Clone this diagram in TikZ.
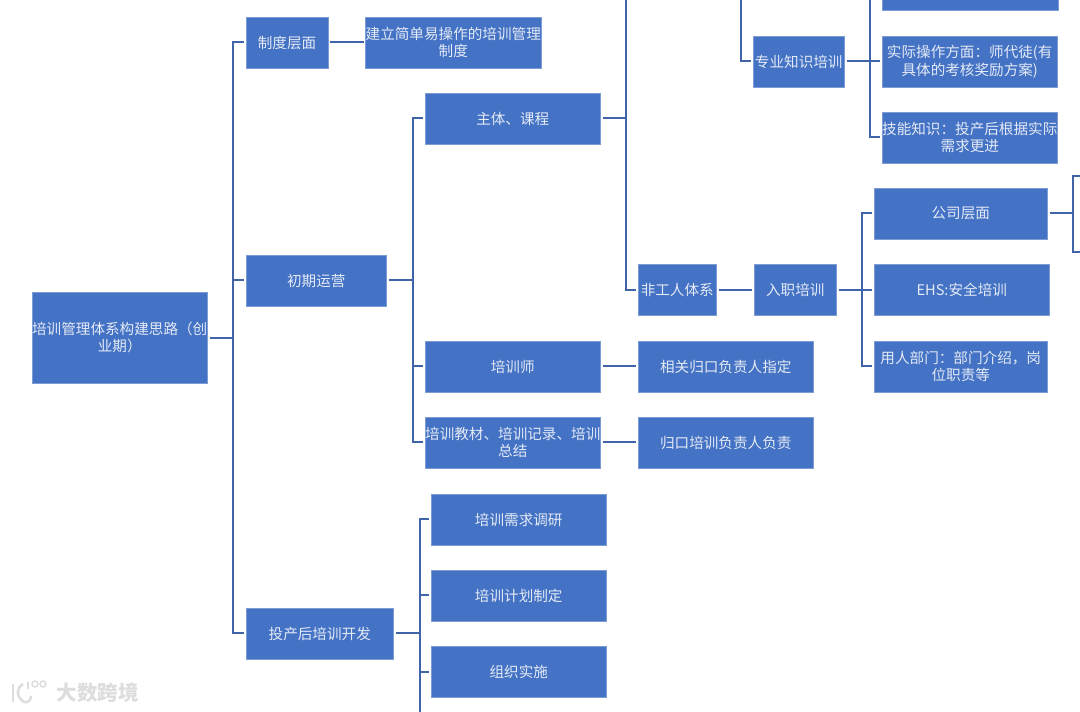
\documentclass[tikz,border=0pt]{standalone}
\usepackage{fontspec}
\setmainfont{Noto Sans CJK SC}
\usetikzlibrary{positioning,calc}
\definecolor{boxblue}  {HTML}{4472C4}
\definecolor{boxedge}  {HTML}{7D9CD6}
\definecolor{linkblue} {HTML}{3F64A8}
\definecolor{boxtext}  {HTML}{E4EAF6}
\definecolor{markgrey} {HTML}{DDDDDD}
\tikzset{
  % --- nodes
  box/.style  = {draw=boxedge, line width=0.4pt, fill=boxblue, text=boxtext, align=center,
                 inner sep=0pt, outer sep=2pt, minimum height=51pt,
                 font=\fontsize{14.6}{17.5}\selectfont},
  % --- edges
  e/.style    = {draw=linkblue, line width=2pt, transform canvas={yshift=0.5pt}},
}

\begin{document}
\begin{tikzpicture}[x=1pt,y=-1pt]
  \useasboundingbox (0,0) rectangle (1080,712);
  \clip (0,0) rectangle (1080,712);
  % all blocks: name/centre x/centre y/width/text
  \foreach \n/\x/\y/\w/\txt in {
    zhidu/287/42.5/81.5/{制度层面},
    jianli/453.25/42.5/174.5/{建立简单易操作的培训管理\\制度},
    zhuti/512.75/118.5/175.5/{主体、课程},
    chuqi/316.25/280.5/140.5/{初期运营},
    shi/512.75/366.5/175.5/{培训师},
    jiaocai/512.75/442.5/175.5/{培训教材、培训记录、培训\\总结},
    guikou/725.75/366.5/175.5/{相关归口负责人指定},
    fuze/725.75/442.5/175.5/{归口培训负责人负责},
    feigong/677.25/290/78.5/{非工人体系},
    ruzhi/795.25/290/82.5/{入职培训},
    zhuanye/798.75/61.5/91.5/{专业知识培训},
    topbox/970.25/-15/176.5/{},
    shiji/969.75/61.5/175.5/{实际操作方面：师代徒(有\\具体的考核奖励方案)},
    jineng/969.75/137.5/175.5/{技能知识：投产后根据实际\\需求更进},
    gongsi/960.75/213.5/173.5/{公司层面},
    ehs/961.75/290/175.5/{EHS:安全培训},
    yongren/960.75/366.5/173.5/{用人部门：部门介绍，岗\\位职责等},
    touchan/319.75/633.5/147.5/{投产后培训开发},
    xuqiu/518.75/519.5/175.5/{培训需求调研},
    jihua/518.75/595.5/175.5/{培训计划制定},
    zuzhi/518.75/672/175.5/{组织实施}}
  {
    \node[box, minimum width=\w] (\n) at (\x,\y) {\txt};
  }
  \node[box, minimum width=175.5, minimum height=91] (root) at (119.75,337.5)
    {培训管理体系构建思路（创\\业期）};

  % trunks
  \coordinate (trunkroot) at (233,338.5);
  \coordinate (trunkchuqi) at (413,280.5);
  \coordinate (trunkzhuti) at (626,118.5);
  \coordinate (trunkzhuanye) at (870,61.5);
  \coordinate (trunkruzhi) at (862,290);
  \coordinate (trunkgongsi) at (1073,213.5);
  \coordinate (trunktouchan) at (420,633.5);

  \draw[e] (root.east |- trunkroot) -- (trunkroot);
  \foreach \n in {zhidu,chuqi,touchan} \draw[e] (trunkroot) |- (\n.west);
  \draw[e] (chuqi.east) -- (trunkchuqi);
  \foreach \n in {zhuti,shi,jiaocai} \draw[e] (trunkchuqi) |- (\n.west);
  \draw[e] (zhuti.east) -- (trunkzhuti);
  \draw[e] (trunkzhuti) |- (feigong.west);
  \draw[e] (trunkzhuti) -- (626,-2);
  \draw[e] (741,-2) |- (zhuanye.west);
  \draw[e] (zhuanye.east) -- (trunkzhuanye);
  \draw[e] (trunkzhuanye) -- (shiji.west);
  \draw[e] (trunkzhuanye) |- (jineng.west);
  \draw[e] (trunkzhuanye) -- (870,-2);
  \draw[e] (feigong) -- (ruzhi);
  \draw[e] (ruzhi.east) -- (trunkruzhi);
  \foreach \n in {gongsi,ehs,yongren} \draw[e] (trunkruzhi) |- (\n.west);
  \draw[e] (gongsi.east) -- (trunkgongsi);
  \draw[e] (1082,176) -| (trunkgongsi) |- (1082,252);
  \draw[e] (zhidu) -- (jianli);
  \draw[e] (shi) -- (guikou);
  \draw[e] (jiaocai) -- (fuze);
  \draw[e] (touchan.east) -- (trunktouchan);
  \foreach \n in {xuqiu,jihua,zuzhi} \draw[e] (trunktouchan) |- (\n.west);
  \draw[e] (trunktouchan) -- (420,714);

  % watermark
  \draw[markgrey, line width=2.5pt] (13,684) -- (13,702);
  \draw[markgrey, line width=2.5pt] (23,684) .. controls (16,688) and (16,697) .. (24,702)
    .. controls (28,703) and (31,700) .. (31,696);
  \draw[markgrey, line width=1.5pt] (28,682) -- (28,689);
  \draw[markgrey, line width=1.5pt] (35,684) circle (3) (43,684) circle (3);
  \node[text=markgrey, font=\bfseries\fontsize{20.5}{22}\selectfont, inner sep=0pt] (mark) at (97.5,692.5) {大数跨境};
\end{tikzpicture}
\end{document}
